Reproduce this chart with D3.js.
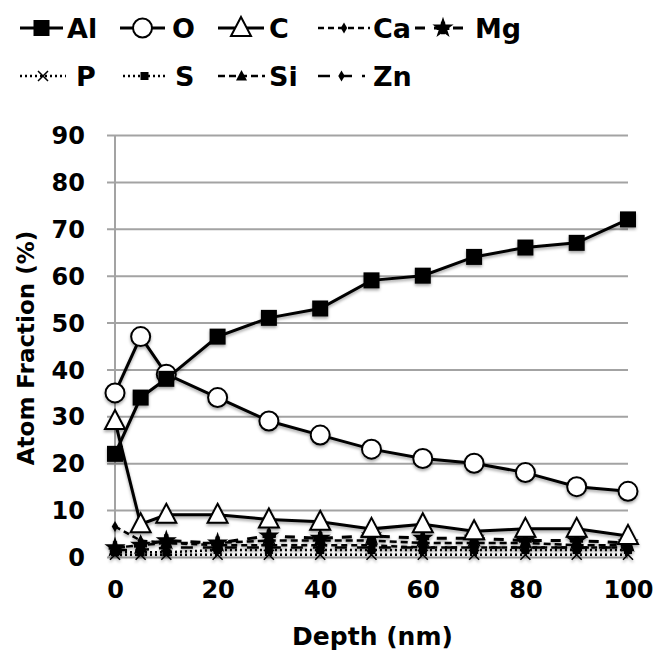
<!DOCTYPE html>
<html>
<head>
<meta charset="utf-8">
<script src="https://cdn.jsdelivr.net/npm/d3@7"></script>
<style>
  body { margin: 0; background: #fff; }
  svg text { font-family: "DejaVu Sans", sans-serif; font-weight: bold; fill: #000; }
</style>
</head>
<body>
<div id="chart"></div>
<script>
// Depth profile data
const depth = [0, 5, 10, 20, 30, 40, 50, 60, 70, 80, 90, 100];
const al = [22, 34, 38, 47, 51, 53, 59, 60, 64, 66, 67, 72];
const o  = [35, 47, 39, 34, 29, 26, 23, 21, 20, 18, 15, 14];
const c  = [29, 7, 9, 9, 8, 7.5, 6, 7, 5.5, 6, 6, 4.5];
const ca = [6.5, 3.5, 3, 2.5, 2.5, 2.5, 2.5, 2, 2, 2, 2, 2];
const mg = [2, 2.5, 3.5, 3, 4.5, 4, 4.5, 4, 4, 3.5, 3.5, 3];
const p  = [0.5, 0.5, 0.5, 0.5, 0.5, 0.5, 0.5, 0.5, 0.5, 0.5, 0.5, 0.5];
const s  = [1, 1, 1, 1.5, 1.5, 1.5, 1.5, 1.5, 1.5, 1.5, 1.5, 1.5];
const si = [2, 2.5, 3, 3, 3.5, 3.5, 3.5, 3, 3, 3, 2.5, 2.5];
const zn = [1.5, 1.5, 2, 2, 2, 2, 2, 2, 2, 2, 2, 2];
const yTicks = [0, 10, 20, 30, 40, 50, 60, 70, 80, 90];
const xTicks = [0, 20, 40, 60, 80, 100];

const series = [
    { name: 'Al', values: al, dash: null, width: 3, marker: 'square' },
    { name: 'O', values: o, dash: null, width: 3, marker: 'circle' },
    { name: 'C', values: c, dash: null, width: 3, marker: 'triangle' },
    { name: 'Ca', values: ca, dash: '6,4', width: 2.5, marker: 'dot' },
    { name: 'Mg', values: mg, dash: '10,9', width: 3, marker: 'star' },
    { name: 'P', values: p, dash: '2,3', width: 2.5, marker: 'x' },
    { name: 'S', values: s, dash: '2,3', width: 2.5, marker: 'smallsquare' },
    { name: 'Si', values: si, dash: '7,4', width: 2.5, marker: 'smalltriangle' },
    { name: 'Zn', values: zn, dash: '12,10', width: 2.5, marker: 'dot' }
];

const width = 657, height = 655;
const margin = { top: 135, right: 29, bottom: 98, left: 115 };

const svg = d3.select('#chart').append('svg')
    .attr('width', width)
    .attr('height', height);

const defs = svg.append('defs');
const shadow = defs.append('filter').attr('id', 'shadow')
    .attr('x', '-20%').attr('y', '-20%').attr('width', '140%').attr('height', '160%');
shadow.append('feDropShadow')
    .attr('dx', 0).attr('dy', 2).attr('stdDeviation', 1.5)
    .attr('flood-color', '#000').attr('flood-opacity', 0.35);

const x = d3.scaleLinear().domain([0, 100]).range([margin.left, width - margin.right]);
const y = d3.scaleLinear().domain([0, 90]).range([height - margin.bottom, margin.top]);

// Gridlines + y axis
const yAxis = svg.append('g')
    .attr('transform', `translate(${margin.left},0)`)
    .call(d3.axisLeft(y).tickValues(yTicks).tickSize(-(width - margin.left - margin.right)).tickSizeOuter(0).tickPadding(30));
yAxis.select('.domain').remove();
yAxis.selectAll('.tick line').attr('stroke', '#a3a3a3').attr('stroke-width', 2).attr('x1', -8);
yAxis.selectAll('.tick text').style('font-size', '24px').attr('dy', '0.36em');

// vertical axis line
svg.append('line')
    .attr('x1', margin.left).attr('x2', margin.left)
    .attr('y1', y(90)).attr('y2', y(0))
    .attr('stroke', '#a3a3a3').attr('stroke-width', 2);

// x axis labels
const xAxis = svg.append('g')
    .attr('transform', `translate(0,${y(0)})`)
    .call(d3.axisBottom(x).tickValues(xTicks).tickSize(0).tickPadding(24));
xAxis.select('.domain').remove();
xAxis.selectAll('.tick text').style('font-size', '24px').attr('dy', '0.71em');

// axis titles
svg.append('text')
    .attr('x', x(50) + 1).attr('y', 645)
    .attr('text-anchor', 'middle')
    .style('font-size', '25px')
    .text('Depth (nm)');

svg.append('text')
    .attr('transform', `translate(34,${y(45) + 2}) rotate(-90)`)
    .attr('text-anchor', 'middle')
    .style('font-size', '23px')
    .text('Atom Fraction (%)');

// marker drawing
function drawMarker(sel, type) {
    if (type === 'square') {
        sel.append('rect').attr('x', -8).attr('y', -8).attr('width', 16).attr('height', 16)
            .attr('fill', '#000');
    } else if (type === 'circle') {
        sel.append('circle').attr('r', 9.5).attr('fill', '#fff')
            .attr('stroke', '#000').attr('stroke-width', 2);
    } else if (type === 'triangle') {
        sel.append('path').attr('d', 'M0,-11L10,8L-10,8Z').attr('fill', '#fff')
            .attr('stroke', '#000').attr('stroke-width', 2);
    } else if (type === 'smalltriangle') {
        sel.append('path').attr('d', 'M0,-6L5.5,4.5L-5.5,4.5Z').attr('fill', '#000');
    } else if (type === 'dot') {
        sel.append('path').attr('d', d3.symbol(d3.symbolDiamond, 36)()).attr('fill', '#000');
    } else if (type === 'star') {
        sel.append('path').attr('d', d3.symbol(d3.symbolStar, 140)()).attr('fill', '#000');
        sel.append('path').attr('d', d3.symbol(d3.symbolCross, 90)()).attr('fill', '#000');
    } else if (type === 'x') {
        sel.append('path').attr('d', 'M-5,-5L5,5M-5,5L5,-5')
            .attr('stroke', '#000').attr('stroke-width', 1.5);
    } else if (type === 'smallsquare') {
        sel.append('rect').attr('x', -4).attr('y', -4).attr('width', 8).attr('height', 8)
            .attr('fill', '#000');
    }
}

const line = d3.line()
    .x((d, i) => x(depth[i]))
    .y(d => y(d));

// draw minor series first, then the main three on top
const order = ['P', 'S', 'Zn', 'Si', 'Ca', 'Mg', 'C', 'O', 'Al'];
const plot = svg.append('g').attr('filter', 'url(#shadow)');

order.forEach(name => {
    const sr = series.find(d => d.name === name);
    const g = plot.append('g');
    g.append('path')
        .datum(sr.values)
        .attr('d', line)
        .attr('fill', 'none')
        .attr('stroke', '#000')
        .attr('stroke-width', sr.width)
        .attr('stroke-dasharray', sr.dash);
    g.selectAll('g.m')
        .data(sr.values)
        .join('g')
        .attr('class', 'm')
        .attr('transform', (d, i) => `translate(${x(depth[i])},${y(d)})`)
        .each(function() { drawMarker(d3.select(this), sr.marker); });
});

// Legend: line start, line end, text start, row baseline
const legendPos = [
    { name: 'Al', x0: 20, x1: 63, tx: 67, ty: 28 },
    { name: 'O', x0: 120, x1: 165, tx: 172, ty: 28 },
    { name: 'C', x0: 218, x1: 264, tx: 269, ty: 28 },
    { name: 'Ca', x0: 318, x1: 370, tx: 373, ty: 28 },
    { name: 'Mg', x0: 415, x1: 471, tx: 475, ty: 28 },
    { name: 'P', x0: 20, x1: 66, tx: 76, ty: 76 },
    { name: 'S', x0: 123, x1: 166, tx: 175, ty: 76 },
    { name: 'Si', x0: 218, x1: 265, tx: 269, ty: 76 },
    { name: 'Zn', x0: 318, x1: 365, tx: 373, ty: 76 }
];
const legend = svg.append('g');
legendPos.forEach(lp => {
    const sr = series.find(d => d.name === lp.name);
    const g = legend.append('g').attr('transform', `translate(0,${lp.ty})`);
    g.append('line')
        .attr('x1', lp.x0).attr('x2', lp.x1).attr('y1', 0).attr('y2', 0)
        .attr('stroke', '#000').attr('stroke-width', sr.width)
        .attr('stroke-dasharray', sr.dash);
    drawMarker(g.append('g').attr('transform', `translate(${(lp.x0 + lp.x1) / 2},0)`), sr.marker);
    g.append('text')
        .attr('x', lp.tx)
        .attr('y', 0)
        .attr('dy', '0.36em')
        .style('font-size', '27px')
        .text(sr.name);
});
</script>
</body>
</html>
